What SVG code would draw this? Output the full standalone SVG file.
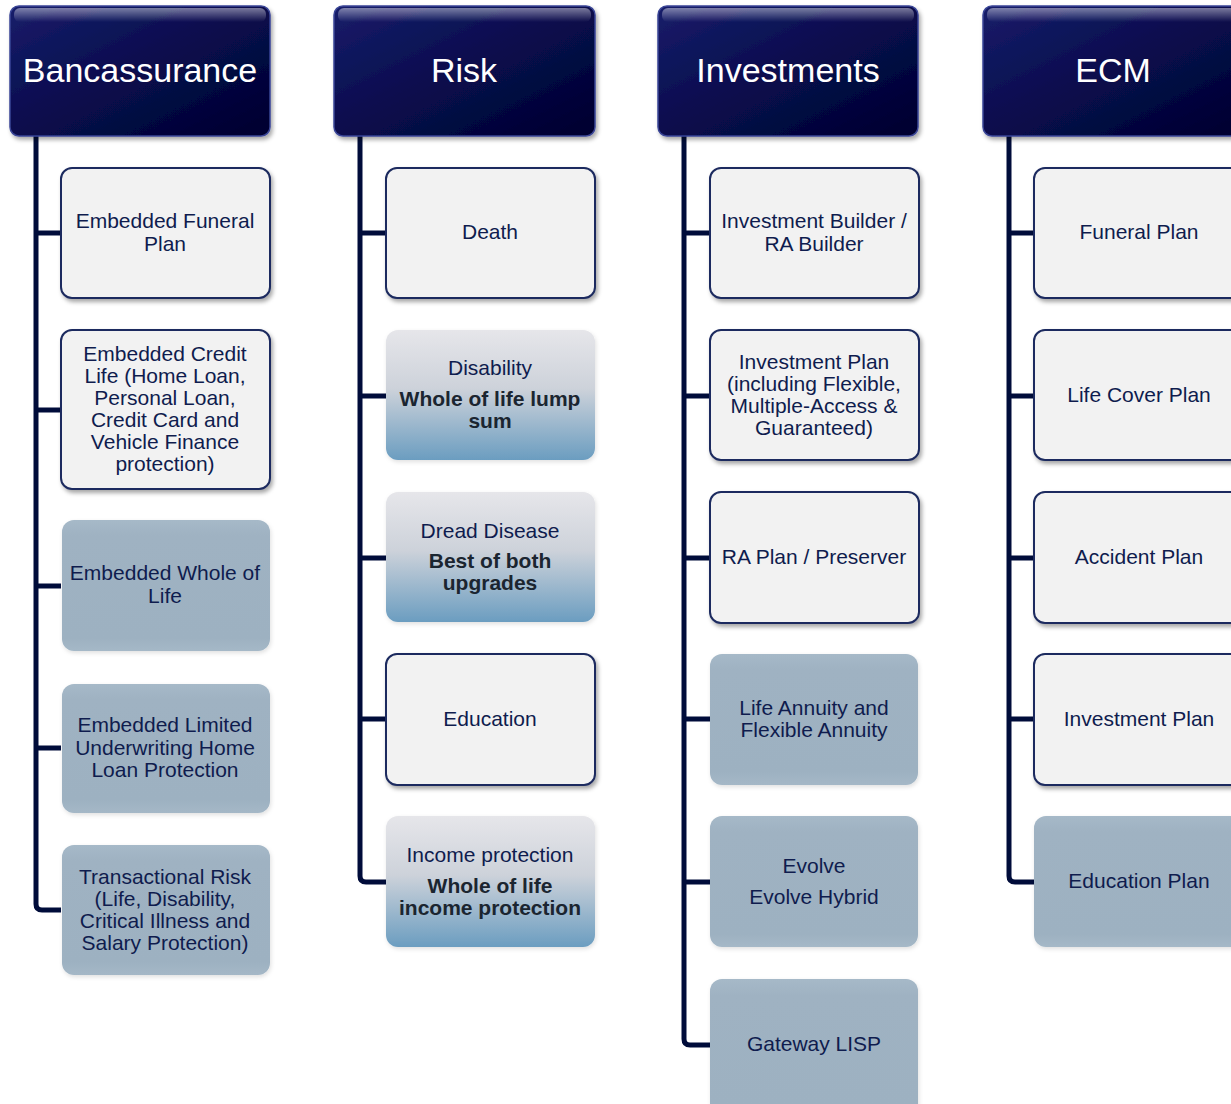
<svg xmlns="http://www.w3.org/2000/svg" width="1231" height="1104" viewBox="0 0 1231 1104">
<defs>
  <linearGradient id="gHead" x1="0" y1="0" x2="1" y2="1">
    <stop offset="0" stop-color="#171d6a"/>
    <stop offset="0.5" stop-color="#080c4c"/>
    <stop offset="1" stop-color="#00002e"/>
  </linearGradient>
  <linearGradient id="gHeadShine" x1="0" y1="0" x2="0" y2="1">
    <stop offset="0" stop-color="#ffffff" stop-opacity="0.45"/>
    <stop offset="1" stop-color="#ffffff" stop-opacity="0"/>
  </linearGradient>
  <linearGradient id="gGrad" x1="0" y1="0" x2="0" y2="1">
    <stop offset="0" stop-color="#e6e6ea"/>
    <stop offset="0.45" stop-color="#cdd2da"/>
    <stop offset="1" stop-color="#6b9dc0"/>
  </linearGradient>
  <linearGradient id="gBlue" x1="0" y1="0" x2="0" y2="1">
    <stop offset="0" stop-color="#a6b9c8"/>
    <stop offset="0.12" stop-color="#9fb2c2"/>
    <stop offset="0.9" stop-color="#9db1c1"/>
    <stop offset="1" stop-color="#a5b8c7"/>
  </linearGradient>
  <filter id="shadow" x="-10%" y="-10%" width="125%" height="130%">
    <feDropShadow dx="2" dy="3" stdDeviation="2.2" flood-color="#000000" flood-opacity="0.35"/>
  </filter>
  <filter id="softShadow" x="-10%" y="-10%" width="125%" height="130%">
    <feDropShadow dx="1" dy="2" stdDeviation="2" flood-color="#000000" flood-opacity="0.12"/>
  </filter>
</defs>
<style>
  .head { fill: url(#gHead); stroke: #3a4596; stroke-width: 1.5; filter: url(#shadow); }
  .shine { fill: url(#gHeadShine); }
  .htxt { font-family: "Liberation Sans", Arial, sans-serif; font-size: 34px; fill: #ffffff; text-anchor: middle; }
  .light { fill: #f2f2f2; stroke: #1b2a5e; stroke-width: 2; filter: url(#shadow); }
  .blue { fill: url(#gBlue); filter: url(#softShadow); }
  .grad { fill: url(#gGrad); filter: url(#softShadow); }
  .hl { fill: #ffffff; opacity: 0.55; }
  .t { font-family: "Liberation Sans", Arial, sans-serif; font-size: 21px; fill: #0f1c4e; text-anchor: middle; }
  .b { font-family: "Liberation Sans", Arial, sans-serif; font-size: 21px; font-weight: bold; fill: #1b2530; text-anchor: middle; }
  .conn { fill: none; stroke: #000c3a; stroke-width: 5; stroke-linejoin: round; }
</style>
<rect width="1231" height="1104" fill="#ffffff"/>

<g id="connectors">
  <path class="conn" d="M36 136 V904 Q36 910 42 910 H61 M36 233 H61 M36 410 H61 M36 586 H61 M36 748 H61"/>
  <path class="conn" d="M360 136 V876 Q360 882 366 882 H386 M360 233 H386 M360 396 H386 M360 558 H386 M360 719 H386"/>
  <path class="conn" d="M684 136 V1039 Q684 1045 690 1045 H710 M684 233 H710 M684 396 H710 M684 558 H710 M684 719 H710 M684 882 H710"/>
  <path class="conn" d="M1009 136 V876 Q1009 882 1015 882 H1034 M1009 233 H1034 M1009 396 H1034 M1009 558 H1034 M1009 719 H1034"/>
</g>

<!-- Headers -->
<g id="h-bancassurance">
  <rect class="head" x="10" y="6" width="260" height="130" rx="9"/>
  <rect class="shine" x="14" y="8" width="252" height="14" rx="6"/>
  <text class="htxt" x="140" y="82">Bancassurance</text>
</g>
<g id="h-risk">
  <rect class="head" x="334" y="6" width="261" height="130" rx="9"/>
  <rect class="shine" x="338" y="8" width="253" height="14" rx="6"/>
  <text class="htxt" x="464" y="82">Risk</text>
</g>
<g id="h-investments">
  <rect class="head" x="658" y="6" width="260" height="130" rx="9"/>
  <rect class="shine" x="662" y="8" width="252" height="14" rx="6"/>
  <text class="htxt" x="788" y="82">Investments</text>
</g>
<g id="h-ecm">
  <rect class="head" x="983" y="6" width="260" height="130" rx="9"/>
  <rect class="shine" x="987" y="8" width="252" height="14" rx="6"/>
  <text class="htxt" x="1113" y="82">ECM</text>
</g>

<!-- Bancassurance children -->
<g id="n-banc-1">
  <rect class="light" x="61" y="168" width="209" height="130" rx="11"/>
  <text class="t"><tspan x="165" y="228">Embedded Funeral</tspan><tspan x="165" y="251">Plan</tspan></text>
</g>
<g id="n-banc-2">
  <rect class="light" x="61" y="330" width="209" height="159" rx="11"/>
  <text class="t"><tspan x="165" y="361">Embedded Credit</tspan><tspan x="165" y="383">Life (Home Loan,</tspan><tspan x="165" y="405">Personal Loan,</tspan><tspan x="165" y="427">Credit Card and</tspan><tspan x="165" y="449">Vehicle Finance</tspan><tspan x="165" y="471">protection)</tspan></text>
</g>
<g id="n-banc-3">
  <rect class="blue" x="62" y="520" width="208" height="131" rx="12"/>
  <text class="t"><tspan x="165" y="580">Embedded Whole of</tspan><tspan x="165" y="603">Life</tspan></text>
</g>
<g id="n-banc-4">
  <rect class="blue" x="62" y="684" width="208" height="129" rx="12"/>
  <text class="t"><tspan x="165" y="732">Embedded Limited</tspan><tspan x="165" y="755">Underwriting Home</tspan><tspan x="165" y="777">Loan Protection</tspan></text>
</g>
<g id="n-banc-5">
  <rect class="blue" x="62" y="845" width="208" height="130" rx="12"/>
  <text class="t"><tspan x="165" y="884">Transactional Risk</tspan><tspan x="165" y="906">(Life, Disability,</tspan><tspan x="165" y="928">Critical Illness and</tspan><tspan x="165" y="950">Salary Protection)</tspan></text>
</g>

<!-- Risk children -->
<g id="n-risk-1">
  <rect class="light" x="386" y="168" width="209" height="130" rx="11"/>
  <text class="t" x="490" y="239">Death</text>
</g>
<g id="n-risk-2">
  <rect class="grad" x="386" y="330" width="209" height="130" rx="12"/>
  <text class="t" x="490" y="375">Disability</text>
  <text class="b"><tspan x="490" y="406">Whole of life lump</tspan><tspan x="490" y="428">sum</tspan></text>
</g>
<g id="n-risk-3">
  <rect class="grad" x="386" y="492" width="209" height="130" rx="12"/>
  <text class="t" x="490" y="538">Dread Disease</text>
  <text class="b"><tspan x="490" y="568">Best of both</tspan><tspan x="490" y="590">upgrades</tspan></text>
</g>
<g id="n-risk-4">
  <rect class="light" x="386" y="654" width="209" height="131" rx="11"/>
  <text class="t" x="490" y="726">Education</text>
</g>
<g id="n-risk-5">
  <rect class="grad" x="386" y="816" width="209" height="131" rx="12"/>
  <text class="t" x="490" y="862">Income protection</text>
  <text class="b"><tspan x="490" y="893">Whole of life</tspan><tspan x="490" y="915">income protection</tspan></text>
</g>

<!-- Investments children -->
<g id="n-inv-1">
  <rect class="light" x="710" y="168" width="209" height="130" rx="11"/>
  <text class="t"><tspan x="814" y="228">Investment Builder /</tspan><tspan x="814" y="251">RA Builder</tspan></text>
</g>
<g id="n-inv-2">
  <rect class="light" x="710" y="330" width="209" height="130" rx="11"/>
  <text class="t"><tspan x="814" y="369">Investment Plan</tspan><tspan x="814" y="391">(including Flexible,</tspan><tspan x="814" y="413">Multiple-Access &amp;</tspan><tspan x="814" y="435">Guaranteed)</tspan></text>
</g>
<g id="n-inv-3">
  <rect class="light" x="710" y="492" width="209" height="131" rx="11"/>
  <text class="t" x="814" y="564">RA Plan / Preserver</text>
</g>
<g id="n-inv-4">
  <rect class="blue" x="710" y="654" width="208" height="131" rx="12"/>
  <text class="t"><tspan x="814" y="715">Life Annuity and</tspan><tspan x="814" y="737">Flexible Annuity</tspan></text>
</g>
<g id="n-inv-5">
  <rect class="blue" x="710" y="816" width="208" height="131" rx="12"/>
  <text class="t"><tspan x="814" y="873">Evolve</tspan><tspan x="814" y="904">Evolve Hybrid</tspan></text>
</g>
<g id="n-inv-6">
  <rect class="blue" x="710" y="979" width="208" height="140" rx="12"/>
  <text class="t" x="814" y="1051">Gateway LISP</text>
</g>

<!-- ECM children -->
<g id="n-ecm-1">
  <rect class="light" x="1034" y="168" width="210" height="130" rx="11"/>
  <text class="t" x="1139" y="239">Funeral Plan</text>
</g>
<g id="n-ecm-2">
  <rect class="light" x="1034" y="330" width="210" height="130" rx="11"/>
  <text class="t" x="1139" y="402">Life Cover Plan</text>
</g>
<g id="n-ecm-3">
  <rect class="light" x="1034" y="492" width="210" height="131" rx="11"/>
  <text class="t" x="1139" y="564">Accident Plan</text>
</g>
<g id="n-ecm-4">
  <rect class="light" x="1034" y="654" width="210" height="131" rx="11"/>
  <text class="t" x="1139" y="726">Investment Plan</text>
</g>
<g id="n-ecm-5">
  <rect class="blue" x="1034" y="816" width="210" height="131" rx="12"/>
  <text class="t" x="1139" y="888">Education Plan</text>
</g>
</svg>
